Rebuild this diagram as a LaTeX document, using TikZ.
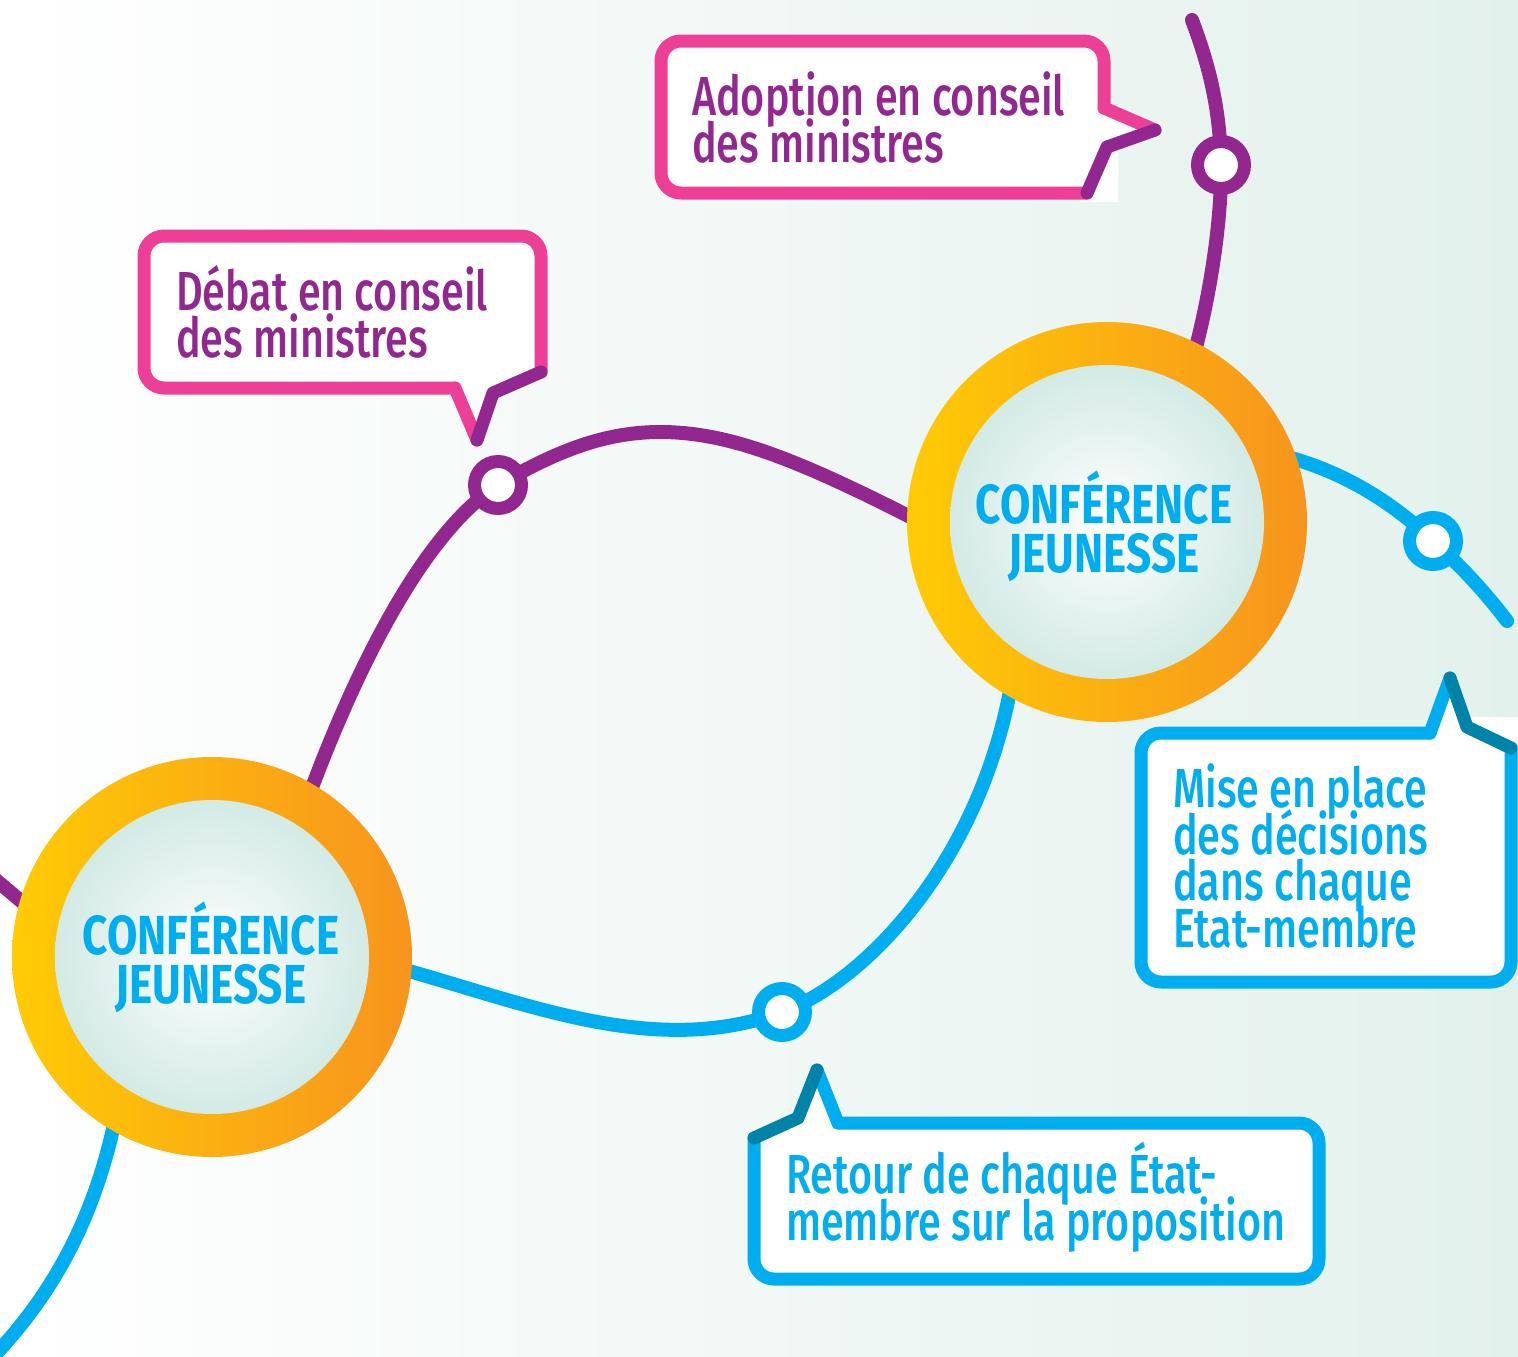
\documentclass[tikz,border=0pt]{standalone}
\usepackage{fontspec}
\setmainfont{Fira Sans}[FakeStretch=0.75, UprightFont=* Medium, BoldFont=* Bold]
\newfontfamily\conffont{Fira Sans}[FakeStretch=0.80]
\definecolor{cpurple}{HTML}{92278F}
\definecolor{cpink}{HTML}{EE3F97}
\definecolor{ccyan}{HTML}{00AEEF}
\definecolor{cteal}{HTML}{0083A9}
\definecolor{ringY}{HTML}{FFCB05}
\definecolor{ringO}{HTML}{F7941D}
\definecolor{innerM}{HTML}{D3EAE5}
\definecolor{bgM}{HTML}{E3F1EC}
\lineskiplimit=-100pt
\begin{document}
\begin{tikzpicture}[x=1pt,y=-1pt,
  route/.style={line width=14pt, line cap=round, line join=round},
  stn/.style={circle, fill=white, line width=13pt, minimum size=47pt, inner sep=0pt},
  bubble/.style={line width=13pt, line cap=round, line join=round},
  ctext/.style={font=\fontsize{55}{46.5}\selectfont, anchor=base west, align=left, inner sep=0pt},
  conf/.style={font=\conffont\fontsize{55}{49}\selectfont\bfseries, text=ccyan, align=center, anchor=base, inner sep=0pt}]
\useasboundingbox (0,0) rectangle (1518,1357);
\clip (0,0) rectangle (1518,1357);
\shade[left color=white, middle color=white!75!bgM, right color=bgM] (0,0) rectangle (1518,1357);

% coordinates
\coordinate (c1) at (212,957);
\coordinate (c2) at (1107,522);
\coordinate (s1) at (498,485);
\coordinate (s2) at (1221,165);
\coordinate (s3) at (782,1012);
\coordinate (s4) at (1433,541);

% purple routes
\draw[route, cpurple] (-30,858) -- (80,951);
\draw[route, cpurple] (300,820) .. controls (350,680) and (420,535) .. (s1)
   .. controls (550,455) and (600,432) .. (660,432)
   .. controls (730,432) and (800,460) .. (930,527);
\draw[route, cpurple] (1180,400) .. controls (1205,330) and (1222,230) .. (s2)
   .. controls (1220,100) and (1205,55) .. (1192,20);
% cyan routes
\draw[route, ccyan] (125,1060) .. controls (110,1180) and (70,1280) .. (-15,1365);
\draw[route, ccyan] (380,963) .. controls (520,1000) and (650,1060) .. (s3)
   .. controls (870,980) and (990,850) .. (1015,660);
\draw[route, ccyan] (1280,455) .. controls (1340,470) and (1390,500) .. (s4)
   .. controls (1460,565) and (1485,592) .. (1507,621);

% circles
\shade[left color=ringY, right color=ringO] (c1) circle (200pt);
\shade[inner color=white, outer color=innerM] (c1) circle (157pt);
\shade[left color=ringY, right color=ringO] (c2) circle (200pt);
\shade[inner color=white, outer color=innerM] (c2) circle (157pt);
\node[conf] (cj1) at (211,1003) {CONFÉRENCE\\JEUNESSE};
\node[conf] (cj2) at (1104,572) {CONFÉRENCE\\JEUNESSE};

% stations
\node[stn, draw=cpurple] (st1) at (s1) {};
\node[stn, draw=cpurple] (st2) at (s2) {};
\node[stn, draw=ccyan] (st3) at (s3) {};
\node[stn, draw=ccyan] (st4) at (s4) {};

% bubble: Adoption
\fill[white] (661,41) -- (1104,41) -- (1104,108) -- (1155,130) -- (1107,147) -- (1087,193) -- (661,193) -- cycle;
\fill[white] (1080,125) rectangle (1118,202);
\draw[bubble, cpink, rounded corners=20pt] (1104,108) -- (1104,41) -- (661,41) -- (661,193) -- (1087,193);
\draw[bubble, cpink] (1104,108) -- (1155,130);
\draw[bubble, cpurple] (1155,130) -- (1107,147) -- (1087,193);
\node[ctext, text=cpurple] (t1) at (692,162) {Adoption en conseil\\des ministres};

% bubble: Debat
\fill[white] (144,236) -- (541,236) -- (541,372) -- (493,393) -- (477,440) -- (455,388) -- (144,388) -- cycle;
\draw[bubble, cpink, rounded corners=20pt] (541,372) -- (541,236) -- (144,236) -- (144,388) -- (455,388);
\draw[bubble, cpink] (455,388) -- (477,440);
\draw[bubble, cpurple] (477,440) -- (493,393) -- (541,372);
\node[ctext, text=cpurple] (t2) at (176,357) {Débat en conseil\\des ministres};

% bubble: Mise en place
\fill[white] (1141,733) -- (1430,733) -- (1450,678) -- (1467,727) -- (1511,748) -- (1511,982) -- (1141,982) -- cycle;
\fill[white] (1455,717) rectangle (1518,750);
\draw[bubble, ccyan, rounded corners=20pt] (1430,733) -- (1141,733) -- (1141,982) -- (1511,982) -- (1511,748);
\draw[bubble, ccyan] (1430,733) -- (1450,678);
\draw[bubble, cteal] (1450,678) -- (1467,727) -- (1511,748);
\node[ctext, text=ccyan] (t3) at (1173,947) {Mise en place\\des décisions\\dans chaque\\Etat-membre};

% bubble: Retour
\fill[white] (754,1138) -- (798,1118) -- (817,1070) -- (838,1123) -- (1319,1123) -- (1319,1279) -- (754,1279) -- cycle;
\draw[bubble, ccyan, rounded corners=20pt] (838,1123) -- (1319,1123) -- (1319,1279) -- (754,1279) -- (754,1138);
\draw[bubble, ccyan] (817,1070) -- (838,1123);
\draw[bubble, cteal] (754,1138) -- (798,1118) -- (817,1070);
\node[ctext, text=ccyan] (t4) at (786,1240) {Retour de chaque État-\\membre sur la proposition};
\end{tikzpicture}
\end{document}
